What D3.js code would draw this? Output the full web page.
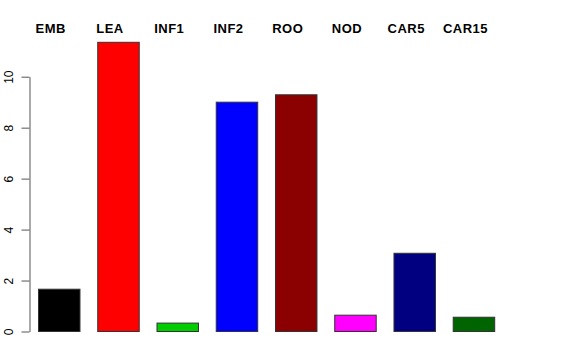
<html>
  <head>
    <meta charset="UTF-8">
    <script src="https://cdnjs.cloudflare.com/ajax/libs/d3/7.8.5/d3.min.js"></script>
    <style>
      body { margin: 0; background: white; }
      text { font-family: 'Liberation Sans', Arial, sans-serif; }
    </style>
  </head>
  <body>
    <svg id="chart"></svg>
    <script>
      const categories = ['EMB', 'LEA', 'INF1', 'INF2', 'ROO', 'NOD', 'CAR5', 'CAR15']
      const values = [1.66, 11.35, 0.33, 9.0, 9.29, 0.64, 3.07, 0.56]
      const colors = ['#000000', '#ff0000', '#00cd00', '#0000ff', '#8b0000', '#ff00ff', '#000080', '#006400']
      const yTicks = [0, 2, 4, 6, 8, 10]

      const width = 576
      const height = 360

      const svg = d3.select('#chart')
        .attr('width', width)
        .attr('height', height)

      const x = d3.scaleBand()
        .domain(categories)
        .range([38, 495.2])
        .paddingInner(0.283)
        .paddingOuter(0)

      const y = d3.scaleLinear()
        .domain([0, 10])
        .range([331.5, 76.7])

      // bars
      svg.selectAll('rect.bar')
        .data(categories)
        .enter().append('rect')
        .attr('class', 'bar')
        .attr('x', d => x(d) + 0.5)
        .attr('width', x.bandwidth() - 1)
        .attr('y', (d, i) => y(values[i]))
        .attr('height', (d, i) => y(0) - y(values[i]))
        .attr('fill', (d, i) => colors[i])
        .attr('stroke', '#333')
        .attr('stroke-width', 1)

      // labels above
      svg.selectAll('text.cat')
        .data(categories)
        .enter().append('text')
        .attr('class', 'cat')
        .attr('x', d => x(d) + x.bandwidth() * 0.3)
        .attr('y', 33.3)
        .attr('text-anchor', 'middle')
        .attr('font-weight', 'bold')
        .attr('font-size', 13)
        .attr('letter-spacing', 0.5)
        .text(d => d)

      // y axis, R style
      const axis = d3.axisLeft(y)
        .tickValues(yTicks)
        .tickSize(8)
        .tickSizeOuter(0)
        .tickFormat(d3.format('d'))

      const gy = svg.append('g')
        .attr('transform', 'translate(29.5,0)')
        .call(axis)

      gy.select('.domain').attr('stroke', '#555')
      gy.selectAll('.tick line').attr('stroke', '#555')
      gy.selectAll('.tick text')
        .attr('font-size', 12)
        .attr('fill', '#000')
        .attr('transform', 'rotate(-90)')
        .attr('x', 0)
        .attr('y', -17)
        .attr('dy', 0)
        .attr('text-anchor', 'middle')
    </script>
  </body>
</html>
